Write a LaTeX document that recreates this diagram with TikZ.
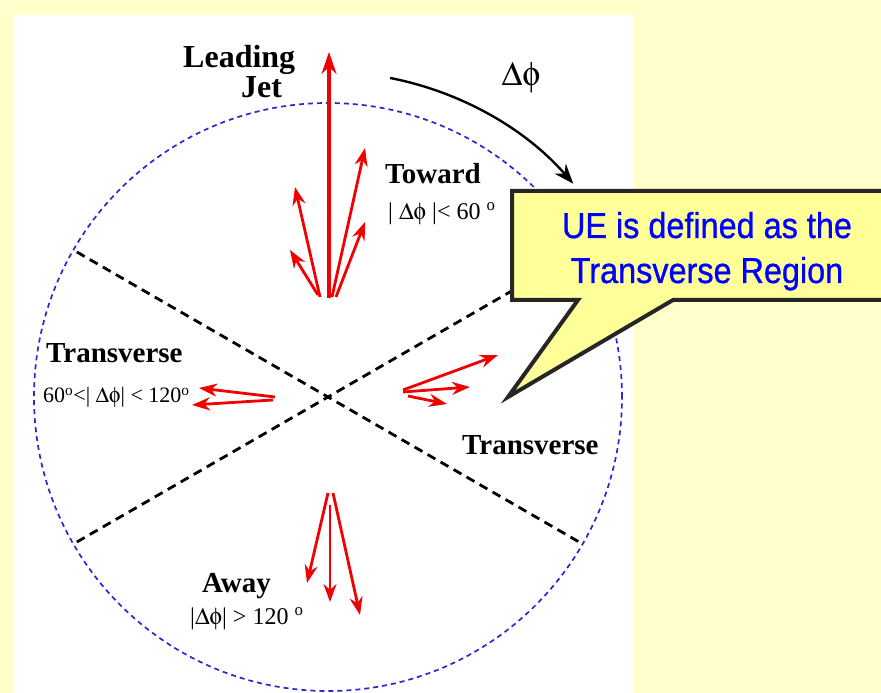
\documentclass[tikz,border=0pt]{standalone}
\usepackage{fontspec}
\usepackage[Symbol]{upgreek}
\setmainfont{Liberation Serif}
\newfontfamily\uefont[FakeStretch=0.9, FakeBold=0.8]{Liberation Sans}
\usetikzlibrary{arrows.meta}

\definecolor{paleyellow}{RGB}{255,255,204}
\definecolor{noteyellow}{RGB}{255,255,153}
\definecolor{ringblue}{RGB}{40,40,210}
\definecolor{trackred}{RGB}{240,0,0}

\begin{document}
\begin{tikzpicture}[x=1pt, y=1pt, >={Stealth[length=18pt, width=13pt]},
        track/.style={->, trackred, line width=2.8pt},
        region/.style={font=\fontsize{29}{31}\selectfont\bfseries, inner sep=0pt},
        cut/.style={font=\fontsize{24}{26}\selectfont, inner sep=0pt},
        uetext/.style={font=\uefont\fontsize{36}{45}\selectfont, text=blue, inner sep=0pt}]
            % Slide background
            \useasboundingbox (0,0) rectangle (881,693);
            \fill[paleyellow] (0,0) rectangle (881,693);
            \fill[white] (13,0) rectangle (633,678);
            \coordinate (O) at (328,296);

            % Ring and region borders
            \draw[ringblue, line width=1.7pt, dash pattern=on 5pt off 4pt] (O) circle[radius=294];
            \draw[line width=2.8pt, dash pattern=on 9pt off 6pt] ([shift={(150:290)}]O) -- ([shift={(330:290)}]O);
            \draw[line width=2.8pt, dash pattern=on 9pt off 6pt] ([shift={(210:290)}]O) -- ([shift={(30:290)}]O);

            % Toward tracks
            \draw[track, line width=3.4pt, >={Stealth[length=22pt, width=15pt]}] (329,395) -- (329,641);
            \draw[track] (320,396) -- (295,506);
            \draw[track] (318,398) -- (290,443);
            \draw[track] (332,396) -- (365,545);
            \draw[track] (336,396) -- (365,471);

            % Transverse tracks
            \draw[track] (275,296) -- (199,305);
            \draw[track] (273,293) -- (192,288);
            \draw[track] (403,303) -- (498,338);
            \draw[track] (403,301) -- (470,306);
            \draw[track] (408,297) -- (447,289);

            % Away tracks
            \draw[track] (328,200) -- (307,110);
            \draw[track] (330,188) -- (330,91);
            \draw[track] (333,200) -- (360,78);

            % Delta phi arrow
            \draw[->, line width=2.4pt, >={Stealth[length=20pt, width=15pt]}] ([shift={(79:325)}]O) arc[start angle=79, end angle=41, radius=325];
            \node[font=\fontsize{34}{36}\selectfont] (dphi) at (521,615) {$\Updelta\upphi$};

            % Region labels
            \node[region, font=\fontsize{32}{34}\selectfont\bfseries, anchor=base west] (lead) at (183,625) {Leading};
            \node[region, font=\fontsize{32}{34}\selectfont\bfseries, anchor=base west] (jet) at (241,595) {Jet};
            \node[region, anchor=base west] (toward) at (385,509) {Toward};
            \node[cut, anchor=base west] (towardcut) at (388,473) {| $\Updelta\upphi$ |< 60 \textsuperscript{o}};
            \node[region, anchor=base west] (transl) at (46,330) {Transverse};
            \node[cut, font=\fontsize{22}{24}\selectfont, anchor=base west] (translcut) at (43,290) {60\textsuperscript{o}<| $\Updelta\upphi$| < 120\textsuperscript{o}};
            \node[region, anchor=base west] (transr) at (462,238) {Transverse};
            \node[region, anchor=base west] (away) at (202,100) {Away};
            \node[cut, anchor=base west] (awaycut) at (190,68) {|$\Updelta\upphi$| > 120 \textsuperscript{o}};

            % Callout
            \draw[fill=noteyellow, draw=black!85, line width=4pt, line join=miter]
                (512,502) -- (890,502) -- (890,393) -- (673,393) -- (508,296) -- (578,393) -- (512,393) -- cycle;
            \node[uetext, anchor=base] (ue1) at (707,455) {UE is defined as the};
            \node[uetext, anchor=base] (ue2) at (707,410) {Transverse Region};
        \end{tikzpicture}
\end{document}
